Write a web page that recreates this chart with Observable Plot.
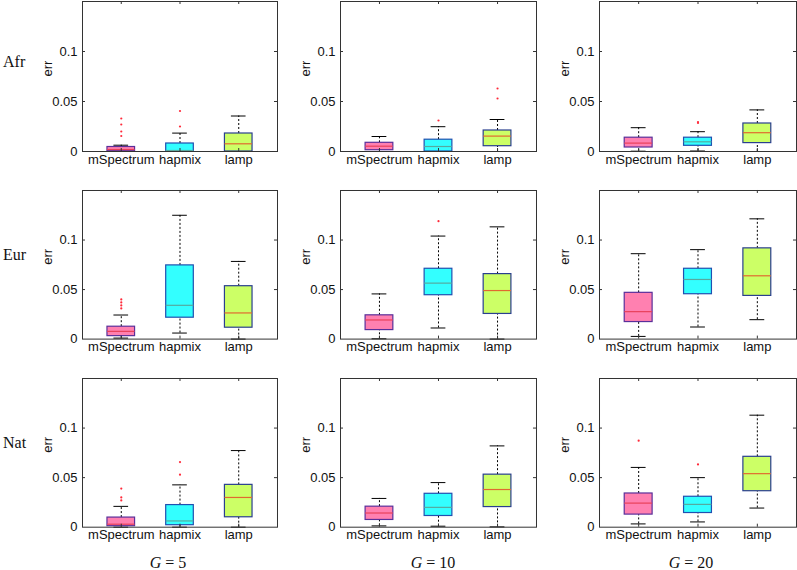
<!DOCTYPE html>
<html>
<head>
<meta charset="utf-8">
<script src="https://cdn.jsdelivr.net/npm/d3@7"></script>
<script src="https://cdn.jsdelivr.net/npm/@observablehq/plot@0.6"></script>
<style>
  html, body { margin: 0; padding: 0; background: #fff; }
  #chart { position: relative; width: 797px; height: 570px; overflow: hidden; background: #fff; }
  #chart svg { position: absolute; overflow: visible; }
  .rowlab, .collab { position: absolute; font-family: "Liberation Serif", "Times New Roman", serif; font-size: 16px; color: #111; white-space: nowrap; line-height: 1; }
  .collab { transform: translateX(-50%); }
  .rowlab { transform: translateY(-50%); }
</style>
</head>
<body>
<div id="chart"></div>
<script>
const methods = ["mSpectrum", "hapmix", "lamp"];
const regions = ["Afr", "Eur", "Nat"];
const gValues = [5, 10, 20];
const yTicks = [0, 0.05, 0.1];

// indexed [region][G][method]
const lowWhisker = [
  [[0, 0, 0], [0, 0, 0], [0.0003, 0.0005, 0]],
  [[0.001, 0.0061, 0], [0.0003, 0.0112, 0], [0.0027, 0.0122, 0.0196]],
  [[0, 0, 0], [0.0013, 0.001, 0.0003], [0.0033, 0.0053, 0.0193]]
];
const q1 = [
  [[0.0003, 0, 0], [0.0013, 0, 0.0053], [0.004, 0.0057, 0.0084]],
  [[0.003, 0.0216, 0.0115], [0.0091, 0.0443, 0.0254], [0.0172, 0.0453, 0.0436]],
  [[0.001, 0.002, 0.01], [0.0073, 0.0113, 0.0203], [0.0127, 0.0143, 0.0363]]
];
const median = [
  [[0.002, 0.001, 0.0077], [0.0053, 0.005, 0.0154], [0.0084, 0.0097, 0.0188]],
  [[0.0078, 0.0341, 0.0264], [0.0193, 0.0565, 0.049], [0.0277, 0.0602, 0.0639]],
  [[0.003, 0.0063, 0.03], [0.0143, 0.02, 0.038], [0.0243, 0.023, 0.054]]
];
const q3 = [
  [[0.0045, 0.008, 0.018], [0.0087, 0.0118, 0.021], [0.0138, 0.0138, 0.028]],
  [[0.0125, 0.0744, 0.0534], [0.024, 0.071, 0.0656], [0.0467, 0.071, 0.0916]],
  [[0.0097, 0.0223, 0.0427], [0.0207, 0.0337, 0.053], [0.034, 0.0307, 0.071]]
];
const highWhisker = [
  [[0.0063, 0.0184, 0.0355], [0.015, 0.0248, 0.032], [0.0238, 0.0198, 0.0416]],
  [[0.0243, 0.125, 0.0784], [0.0456, 0.104, 0.1133], [0.0862, 0.0903, 0.1214]],
  [[0.021, 0.0427, 0.0773], [0.029, 0.045, 0.082], [0.0603, 0.05, 0.113]]
];
const outliers = [
  [[[0.0155, 0.020, 0.027, 0.033], [0.025, 0.0405], []], [[], [0.031], [0.053, 0.063]], [[], [0.0285, 0.0295], []]],
  [[[0.031, 0.034, 0.037, 0.040], [], []], [[], [0.119], []], [[], [], []]],
  [[[0.027, 0.030, 0.039], [0.053, 0.0657], []], [[], [], []], [[0.0873], [0.0633], []]]
];

const fills = ["#ff80b0", "#33ffff", "#ccff66"];
const boxStrokes = ["#5a2f9a", "#2050b0", "#2a3f8f"];
const medianColors = ["#e8405a", "#55aaa0", "#e06a30"];

// layout of plot areas (pixels)
const colLeft = [82, 340, 599];
const colRight = [277, 536, 796];
const rowTop = [1, 189.7, 378];
const rowBottom = [151, 338.3, 526.7];
const mL = 62, mR = 2, mT = 2, mB = 26;

const xDomain = [0.34, 3.66];
const yDomain = [0, 0.15];
const chart = document.getElementById("chart");

for (let r = 0; r < 3; r++) {
  for (let g = 0; g < 3; g++) {
    const boxes = methods.map((m, i) => ({
      method: m, pos: i + 1, color: i,
      lo: lowWhisker[r][g][i], q1: q1[r][g][i], med: median[r][g][i],
      q3: q3[r][g][i], hi: highWhisker[r][g][i]
    }));
    const outs = [];
    methods.forEach((m, i) => outliers[r][g][i].forEach(v => outs.push({pos: i + 1, v})));

    const pw = colRight[g] - colLeft[g];
    const ph = rowBottom[r] - rowTop[r];
    const pxPerX = pw / (xDomain[1] - xDomain[0]);
    const pxPerY = ph / (yDomain[1] - yDomain[0]);
    const tkX = 3 / pxPerX, tkY = 3 / pxPerY;
    const hw = 0.235, cw = 0.125;

    const svg = Plot.plot({
      width: mL + pw + mR,
      height: mT + ph + mB,
      marginLeft: mL, marginRight: mR, marginTop: mT, marginBottom: mB,
      style: {fontFamily: "'Liberation Sans', Arial, sans-serif", fontSize: "13px", color: "#111", background: "transparent"},
      x: {domain: xDomain},
      y: {domain: yDomain},
      marks: [
        // whiskers
        Plot.ruleX(boxes, {x: "pos", y1: "q3", y2: "hi", stroke: "#000", strokeWidth: 1, strokeDasharray: "2,2"}),
        Plot.ruleX(boxes, {x: "pos", y1: "lo", y2: "q1", stroke: "#000", strokeWidth: 1, strokeDasharray: "2,2"}),
        Plot.ruleY(boxes, {y: "hi", x1: d => d.pos - cw, x2: d => d.pos + cw, stroke: "#000", strokeWidth: 1}),
        Plot.ruleY(boxes, {y: "lo", x1: d => d.pos - cw, x2: d => d.pos + cw, stroke: "#000", strokeWidth: 1}),
        // boxes
        Plot.rect(boxes, {x1: d => d.pos - hw, x2: d => d.pos + hw, y1: "q1", y2: "q3",
          fill: d => fills[d.color], stroke: d => boxStrokes[d.color], strokeWidth: 1.2}),
        Plot.ruleY(boxes, {y: "med", x1: d => d.pos - hw, x2: d => d.pos + hw, stroke: d => medianColors[d.color], strokeWidth: 1.2}),
        // outliers
        Plot.dot(outs, {x: "pos", y: "v", r: 1.1, fill: "#ff2a3a", stroke: null}),
        // inward ticks
        Plot.ruleY(yTicks.slice(1), {y: d => d, x1: xDomain[0], x2: xDomain[0] + tkX, stroke: "#333"}),
        Plot.ruleY(yTicks.slice(1), {y: d => d, x1: xDomain[1], x2: xDomain[1] - tkX, stroke: "#333"}),
        Plot.ruleX([1, 2, 3], {x: d => d, y1: yDomain[1], y2: yDomain[1] - tkY, stroke: "#333"}),
        Plot.ruleX([1, 2, 3], {x: d => d, y1: yDomain[0], y2: yDomain[0] + tkY, stroke: "#333"}),
        Plot.frame({stroke: "#333", strokeWidth: 1}),
        Plot.axisX([1, 2, 3], {tickFormat: d => methods[d - 1], tickSize: 0, tickPadding: 3, label: null, fill: "#111"}),
        Plot.axisY(yTicks, {tickFormat: d => String(d), tickSize: 0, tickPadding: 5, label: null, fill: "#111"}),
        Plot.text(["err"], {frameAnchor: "left", dx: -35, rotate: -90, text: d => d, fontSize: 13, fill: "#111"})
      ]
    });
    svg.style.left = (colLeft[g] - mL) + "px";
    svg.style.top = (rowTop[r] - mT) + "px";
    chart.appendChild(svg);
  }
}

// row labels
const rowLabelY = [62, 255, 443];
regions.forEach((name, r) => {
  const d = document.createElement("div");
  d.className = "rowlab";
  d.textContent = name;
  d.style.left = "3px";
  d.style.top = rowLabelY[r] + "px";
  chart.appendChild(d);
});

// column labels
const colLabelX = [168, 433, 691];
gValues.forEach((gv, c) => {
  const d = document.createElement("div");
  d.className = "collab";
  d.innerHTML = "<i>G</i> = " + gv;
  d.style.left = colLabelX[c] + "px";
  d.style.top = "555px";
  chart.appendChild(d);
});
</script>
</body>
</html>
